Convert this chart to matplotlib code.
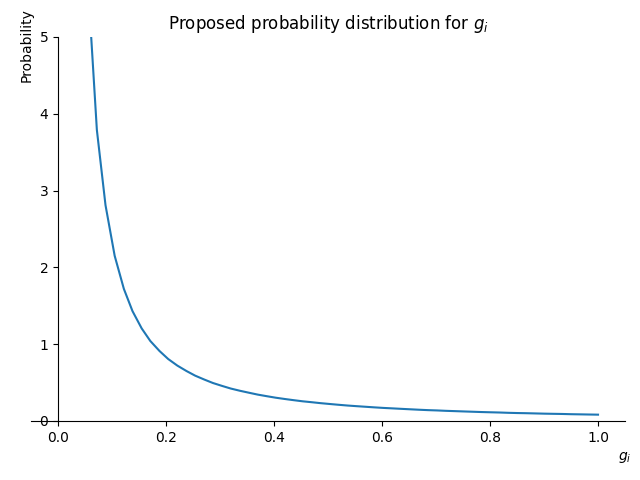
import numpy as np
import matplotlib
matplotlib.use("Agg")
import matplotlib.pyplot as plt

# valores
g = [0.039, 0.055, 0.072, 0.088, 0.105, 0.122, 0.138, 0.155, 0.171, 0.188,
     0.204, 0.221, 0.238, 0.254, 0.271, 0.287, 0.304, 0.320, 0.337, 0.354,
     0.370, 0.387, 0.403, 0.420, 0.436, 0.453, 0.470, 0.486, 0.503, 0.519,
     0.536, 0.552, 0.569, 0.586, 0.602, 0.619, 0.635, 0.652, 0.669, 0.685,
     0.702, 0.718, 0.735, 0.751, 0.768, 0.785, 0.801, 0.818, 0.834, 0.851,
     0.867, 0.884, 0.901, 0.917, 0.934, 0.950, 0.967, 0.983, 1.000]
prob = [9.5, 5.75, 3.79, 2.81, 2.15, 1.72, 1.43, 1.205, 1.041, 0.911,
        0.807, 0.721, 0.650, 0.590, 0.539, 0.494, 0.456, 0.422, 0.393, 0.367,
        0.343, 0.322, 0.303, 0.286, 0.271, 0.256, 0.244, 0.232, 0.221, 0.211,
        0.201, 0.193, 0.185, 0.177, 0.170, 0.164, 0.158, 0.152, 0.146, 0.141,
        0.137, 0.132, 0.128, 0.124, 0.120, 0.116, 0.113, 0.110, 0.106, 0.103,
        0.101, 0.098, 0.095, 0.093, 0.091, 0.088, 0.086, 0.084, 0.082]

fig, ax = plt.subplots(figsize=(6.4, 4.8), dpi=100)
ax.plot(g, prob)
ax.set_xlim(-0.05, 1.05)
ax.set_ylim(0, 5)
ax.spines['left'].set_position('zero')
ax.spines['bottom'].set_position('zero')
ax.spines['top'].set_visible(False)
ax.spines['right'].set_visible(False)
ax.set_xlabel("$g_i$", x=1.0)
ax.set_ylabel("Probability", y=0.98)
ax.set_title("Proposed probability distribution for $g_i$")
fig.subplots_adjust(left=0.0484, right=0.9766, top=0.923, bottom=0.123)
fig.savefig("out.png")
